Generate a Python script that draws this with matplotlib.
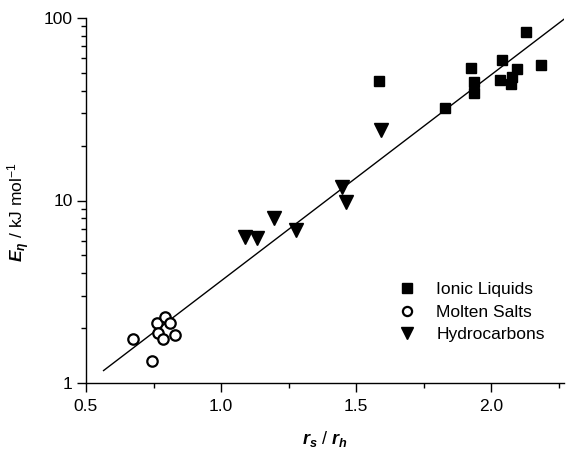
import matplotlib
matplotlib.use("Agg")
import matplotlib.pyplot as plt
from matplotlib.ticker import FixedLocator, NullFormatter, FuncFormatter

plt.rcParams['font.family'] = ['Liberation Sans', 'DejaVu Sans']
plt.rcParams['mathtext.fontset'] = 'custom'
plt.rcParams['mathtext.rm'] = 'Liberation Sans'
plt.rcParams['mathtext.it'] = 'Liberation Sans:italic'
plt.rcParams['mathtext.bf'] = 'Liberation Sans:bold:italic'

# Ionic liquids
il_x = [2.130, 2.042, 1.926, 2.186, 2.095, 1.937, 1.937, 2.033, 2.076, 2.073, 1.831, 1.584]
il_y = [83.5, 58.9, 53.4, 55.0, 52.3, 44.4, 38.7, 45.7, 47.3, 43.5, 32.3, 45.2]
# Molten salts
ms_x = [0.673, 0.743, 0.762, 0.793, 0.811, 0.765, 0.784, 0.830]
ms_y = [1.74, 1.32, 2.14, 2.31, 2.12, 1.89, 1.74, 1.83]
# Hydrocarbons
hc_x = [1.591, 1.447, 1.463, 1.278, 1.196, 1.089, 1.132]
hc_y = [24.3, 11.8, 9.85, 6.89, 7.99, 6.34, 6.21]
# Fit line endpoints
fit_x = [0.565, 2.27]
fit_y = [1.17, 98.5]

xticks = [0.5, 1.0, 1.5, 2.0]
yticks = [1, 10, 100]

fig = plt.figure(figsize=(5.66, 4.49), dpi=100)
ax = fig.add_axes([86/566, 1-383/449, 478/566, 365/449])

ax.plot(fit_x, fit_y, color='black', lw=1.0, zorder=1)
ax.plot(il_x, il_y, ls='none', marker='s', ms=7.5, color='black', label='Ionic Liquids', zorder=3)
ax.plot(ms_x, ms_y, ls='none', marker='o', ms=7.5, mfc='white', mec='black', mew=1.6,
        label='Molten Salts', zorder=3)
ax.plot(hc_x, hc_y, ls='none', marker='v', ms=9.5, color='black', label='Hydrocarbons', zorder=3)

ax.set_yscale('log')
ax.set_xlim(0.5, 2.27)
ax.set_ylim(1, 100)
ax.xaxis.set_major_locator(FixedLocator(xticks))
ax.xaxis.set_minor_locator(FixedLocator([0.75, 1.25, 1.75, 2.25]))
ax.xaxis.set_major_formatter(FuncFormatter(lambda v, p: f'{v:.1f}'))
ax.yaxis.set_major_locator(FixedLocator(yticks))
ax.yaxis.set_minor_locator(FixedLocator([d * m for d in (1, 10) for m in range(2, 10)]))
ax.yaxis.set_major_formatter(FuncFormatter(lambda v, p: f'{v:g}'))
ax.yaxis.set_minor_formatter(NullFormatter())

for s in ('top', 'right'):
    ax.spines[s].set_visible(False)
for s in ('left', 'bottom'):
    ax.spines[s].set_linewidth(1.0)
ax.tick_params(which='major', direction='out', length=6.5, width=1.0, labelsize=12.5)
ax.tick_params(axis='x', which='major', pad=5)
ax.tick_params(axis='y', which='major', pad=3)
ax.tick_params(which='minor', direction='out', length=3.5, width=1.0)

ax.set_xlabel(r'$\mathbf{r_s}$ / $\mathbf{r_h}$', fontsize=13, labelpad=11)
ax.set_ylabel(r'$\mathbf{E}_{\mathbf{\eta}}$ / kJ mol$^{-1}$', fontsize=12.5)
ax.yaxis.set_label_coords((32 - 86) / 478, (383 - 212) / 365)

ax.legend(loc='center left', bbox_to_anchor=((400-86)/478, (383-312)/365), frameon=False,
          fontsize=12.5, handlelength=0.8, handletextpad=1.3, labelspacing=0.4,
          borderpad=0, borderaxespad=0, markerscale=0.88)

fig.savefig('out.png', dpi=100)
